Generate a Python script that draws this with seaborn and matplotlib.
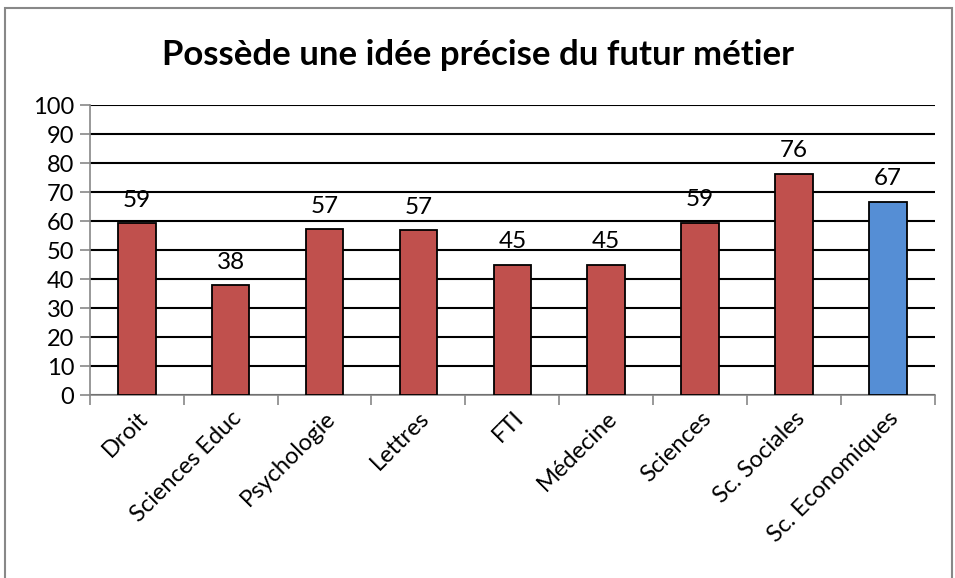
import matplotlib
matplotlib.use("Agg")
import matplotlib.pyplot as plt
import seaborn as sns
import pandas as pd
from matplotlib.patches import Rectangle

# Data
categories = ["Droit", "Sciences Educ", "Psychologie", "Lettres", "FTI",
              "Médecine", "Sciences", "Sc. Sociales", "Sc. Economiques"]
values = [59.3, 37.9, 57.2, 56.9, 45.0, 45.0, 59.4, 76.3, 66.6]
colors = ["#C0504D"] * 8 + ["#558ED5"]

df = pd.DataFrame({"cat": categories, "val": values})

sns.set_theme(style="white")
plt.rcParams["font.family"] = ["Lato", "DejaVu Sans"]
plt.rcParams["text.color"] = "black"
plt.rcParams["xtick.color"] = "black"
plt.rcParams["ytick.color"] = "black"

fig = plt.figure(figsize=(9.55, 5.78), dpi=100)
ax = fig.add_axes([0.094, 0.3166, 0.885, 0.5016])

sns.barplot(data=df, x="cat", y="val", hue="cat", palette=colors, legend=False, saturation=1,
            width=0.4, edgecolor="black", linewidth=1.3, ax=ax, zorder=3)

ax.set_ylim(0, 100)
ax.set_xlim(-0.5, len(categories) - 0.5)
ax.set_yticks(range(0, 101, 10))
ax.yaxis.grid(True, color="black", linewidth=1.5, zorder=0)
ax.set_axisbelow(True)

# value labels
for i, v in enumerate(values):
    ax.text(i, v + 4.3, f"{round(v):d}", ha="center", va="bottom", fontsize=17.5, color="black", zorder=4)

ax.set_xlabel("")
ax.set_ylabel("")
ax.set_xticks(range(len(categories)))
ax.set_xticklabels(categories, rotation=45, ha="right", rotation_mode="anchor", fontsize=17)
ax.set_xticks([i - 0.5 for i in range(len(categories) + 1)], minor=True)
ax.tick_params(axis="x", which="major", length=0, pad=9, labelcolor="black")
ax.tick_params(axis="x", which="minor", length=7, color="#888888", width=1.2, direction="out", bottom=True)
ax.tick_params(axis="y", length=7, color="#888888", width=1.2, direction="out", labelsize=17, pad=4,
               left=True, labelcolor="black")

for s in ["top", "right"]:
    ax.spines[s].set_visible(False)
for s in ["left", "bottom"]:
    ax.spines[s].set_color("#888888")
    ax.spines[s].set_linewidth(1.2)

fig.text(0.5, 0.905, "Possède une idée précise du futur métier", ha="center", va="center",
         fontsize=25, fontweight="bold", color="black")

# outer chart border
fig.patches.append(Rectangle((5 / 955, -0.02), 947 / 955, 1 - 8 / 578 + 0.02,
                             transform=fig.transFigure, fill=False, edgecolor="#888888", linewidth=1.5))

fig.savefig("out.png", dpi=100, facecolor="white")
